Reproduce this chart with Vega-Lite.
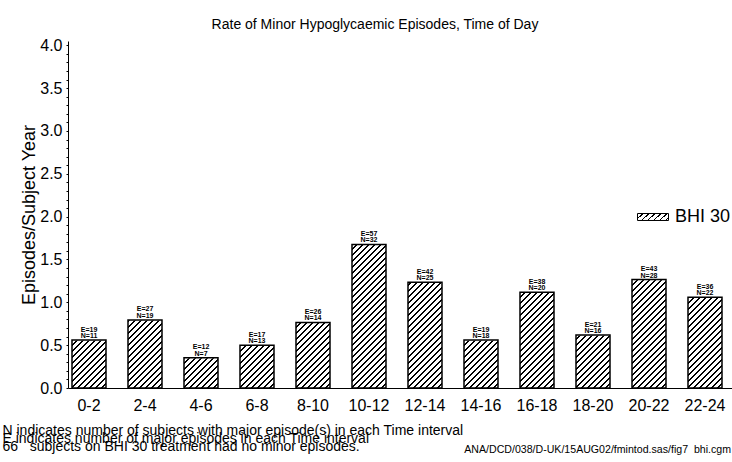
{
  "$schema": "https://vega.github.io/schema/vega-lite/v6.json",
  "width": 664,
  "height": 347,
  "autosize": {"type": "none"},
  "padding": {"left": 68, "top": 41, "right": 0, "bottom": 74},
  "background": "white",
  "config": {
    "view": {"stroke": null},
    "font": "Liberation Sans",
    "axis": {"domainColor": "black", "tickColor": "black", "labelColor": "black", "titleColor": "black", "grid": false}
  },
  "title": {
    "text": "Rate of Minor Hypoglycaemic Episodes, Time of Day",
    "fontSize": 14, "fontWeight": "normal", "color": "black",
    "anchor": "middle", "frame": "group", "baseline": "alphabetic", "offset": 12.5, "dx": -25, "dy": 18.5
  },
  "data": {"values": [
    {"t": "0-2", "rate": 0.559, "E": 19, "N": 11},
    {"t": "2-4", "rate": 0.794, "E": 27, "N": 19},
    {"t": "4-6", "rate": 0.353, "E": 12, "N": 7},
    {"t": "6-8", "rate": 0.5, "E": 17, "N": 13},
    {"t": "8-10", "rate": 0.765, "E": 26, "N": 14},
    {"t": "10-12", "rate": 1.676, "E": 57, "N": 32},
    {"t": "12-14", "rate": 1.235, "E": 42, "N": 25},
    {"t": "14-16", "rate": 0.559, "E": 19, "N": 18},
    {"t": "16-18", "rate": 1.118, "E": 38, "N": 20},
    {"t": "18-20", "rate": 0.618, "E": 21, "N": 16},
    {"t": "20-22", "rate": 1.265, "E": 43, "N": 28},
    {"t": "22-24", "rate": 1.059, "E": 36, "N": 22}
  ]},
  "encoding": {
    "x": {
      "field": "t", "type": "nominal", "sort": null,
      "scale": {"paddingInner": 0.392857, "paddingOuter": 0.125, "align": 0.2857},
      "axis": {
        "labelAngle": 0, "ticks": false, "labelPadding": 9, "labelFontSize": 16, "domainWidth": 1,
        "title": ["N indicates number of subjects with major episode(s) in each Time interval", "E indicates number of major episodes in each Time interval", "66\u00a0\u00a0\u00a0subjects on BHI 30 treatment had no minor episodes."],
        "titleFontSize": 14, "titleFontWeight": "normal", "titleAnchor": "start", "titleAlign": "left",
        "titleBaseline": "alphabetic", "titleX": -66, "titleY": 46, "titleLineHeight": 8.3
      }
    },
    "y": {
      "field": "rate", "type": "quantitative",
      "scale": {"domain": [0, 4.05], "nice": false, "zero": true},
      "axis": {
        "values": [0,0.1,0.2,0.3,0.4,0.5,0.6,0.7,0.8,0.9,1,1.1,1.2,1.3,1.4,1.5,1.6,1.7,1.8,1.9,2,2.1,2.2,2.3,2.4,2.5,2.6,2.7,2.8,2.9,3,3.1,3.2,3.3,3.4,3.5,3.6,3.7,3.8,3.9,4],
        "labelExpr": "abs(datum.value * 2 - round(datum.value * 2)) < 0.01 ? format(datum.value, '.1f') : ''",
        "labelOverlap": false, "tickSize": 2, "labelPadding": 4, "labelFontSize": 16, "domainWidth": 1,
        "title": "Episodes/Subject Year", "titleFontSize": 18, "titleFontWeight": "normal", "titlePadding": 1
      }
    }
  },
  "layer": [
    {
      "mark": {"type": "bar", "strokeWidth": 0, "fill": {"gradient": "linear", "x1": 0, "y1": 0, "x2": 0.43153, "y2": 1.90306, "stops": [
        {"offset":0,"color":"#fff"},{"offset":0.015,"color":"#fff"},{"offset":0.015,"color":"#000"},{"offset":0.02,"color":"#000"},
        {"offset":0.02,"color":"#fff"},{"offset":0.035,"color":"#fff"},{"offset":0.035,"color":"#000"},{"offset":0.04,"color":"#000"},
        {"offset":0.04,"color":"#fff"},{"offset":0.055,"color":"#fff"},{"offset":0.055,"color":"#000"},{"offset":0.06,"color":"#000"},
        {"offset":0.06,"color":"#fff"},{"offset":0.075,"color":"#fff"},{"offset":0.075,"color":"#000"},{"offset":0.08,"color":"#000"},
        {"offset":0.08,"color":"#fff"},{"offset":0.095,"color":"#fff"},{"offset":0.095,"color":"#000"},{"offset":0.1,"color":"#000"},
        {"offset":0.1,"color":"#fff"},{"offset":0.115,"color":"#fff"},{"offset":0.115,"color":"#000"},{"offset":0.12,"color":"#000"},
        {"offset":0.12,"color":"#fff"},{"offset":0.135,"color":"#fff"},{"offset":0.135,"color":"#000"},{"offset":0.14,"color":"#000"},
        {"offset":0.14,"color":"#fff"},{"offset":0.155,"color":"#fff"},{"offset":0.155,"color":"#000"},{"offset":0.16,"color":"#000"},
        {"offset":0.16,"color":"#fff"},{"offset":0.175,"color":"#fff"},{"offset":0.175,"color":"#000"},{"offset":0.18,"color":"#000"},
        {"offset":0.18,"color":"#fff"},{"offset":0.195,"color":"#fff"},{"offset":0.195,"color":"#000"},{"offset":0.2,"color":"#000"},
        {"offset":0.2,"color":"#fff"},{"offset":0.215,"color":"#fff"},{"offset":0.215,"color":"#000"},{"offset":0.22,"color":"#000"},
        {"offset":0.22,"color":"#fff"},{"offset":0.235,"color":"#fff"},{"offset":0.235,"color":"#000"},{"offset":0.24,"color":"#000"},
        {"offset":0.24,"color":"#fff"},{"offset":0.255,"color":"#fff"},{"offset":0.255,"color":"#000"},{"offset":0.26,"color":"#000"},
        {"offset":0.26,"color":"#fff"},{"offset":0.275,"color":"#fff"},{"offset":0.275,"color":"#000"},{"offset":0.28,"color":"#000"},
        {"offset":0.28,"color":"#fff"},{"offset":0.295,"color":"#fff"},{"offset":0.295,"color":"#000"},{"offset":0.3,"color":"#000"},
        {"offset":0.3,"color":"#fff"},{"offset":0.315,"color":"#fff"},{"offset":0.315,"color":"#000"},{"offset":0.32,"color":"#000"},
        {"offset":0.32,"color":"#fff"},{"offset":0.335,"color":"#fff"},{"offset":0.335,"color":"#000"},{"offset":0.34,"color":"#000"},
        {"offset":0.34,"color":"#fff"},{"offset":0.355,"color":"#fff"},{"offset":0.355,"color":"#000"},{"offset":0.36,"color":"#000"},
        {"offset":0.36,"color":"#fff"},{"offset":0.375,"color":"#fff"},{"offset":0.375,"color":"#000"},{"offset":0.38,"color":"#000"},
        {"offset":0.38,"color":"#fff"},{"offset":0.395,"color":"#fff"},{"offset":0.395,"color":"#000"},{"offset":0.4,"color":"#000"},
        {"offset":0.4,"color":"#fff"},{"offset":0.415,"color":"#fff"},{"offset":0.415,"color":"#000"},{"offset":0.42,"color":"#000"},
        {"offset":0.42,"color":"#fff"},{"offset":0.435,"color":"#fff"},{"offset":0.435,"color":"#000"},{"offset":0.44,"color":"#000"},
        {"offset":0.44,"color":"#fff"},{"offset":0.455,"color":"#fff"},{"offset":0.455,"color":"#000"},{"offset":0.46,"color":"#000"},
        {"offset":0.46,"color":"#fff"},{"offset":0.475,"color":"#fff"},{"offset":0.475,"color":"#000"},{"offset":0.48,"color":"#000"},
        {"offset":0.48,"color":"#fff"},{"offset":0.495,"color":"#fff"},{"offset":0.495,"color":"#000"},{"offset":0.5,"color":"#000"},
        {"offset":0.5,"color":"#fff"},{"offset":0.515,"color":"#fff"},{"offset":0.515,"color":"#000"},{"offset":0.52,"color":"#000"},
        {"offset":0.52,"color":"#fff"},{"offset":0.535,"color":"#fff"},{"offset":0.535,"color":"#000"},{"offset":0.54,"color":"#000"},
        {"offset":0.54,"color":"#fff"},{"offset":0.555,"color":"#fff"},{"offset":0.555,"color":"#000"},{"offset":0.56,"color":"#000"},
        {"offset":0.56,"color":"#fff"},{"offset":0.575,"color":"#fff"},{"offset":0.575,"color":"#000"},{"offset":0.58,"color":"#000"},
        {"offset":0.58,"color":"#fff"},{"offset":0.595,"color":"#fff"},{"offset":0.595,"color":"#000"},{"offset":0.6,"color":"#000"},
        {"offset":0.6,"color":"#fff"},{"offset":0.615,"color":"#fff"},{"offset":0.615,"color":"#000"},{"offset":0.62,"color":"#000"},
        {"offset":0.62,"color":"#fff"},{"offset":1,"color":"#fff"}
      ]}},
      "encoding": {
        "y": {"datum": 1.75, "type": "quantitative"},
        "y2": {"datum": 0}
      }
    },
    {
      "mark": {"type": "bar", "fill": "white", "stroke": "white", "strokeWidth": 1},
      "encoding": {
        "y2": {"datum": 1.75}
      }
    },
    {
      "mark": {"type": "bar", "fill": "transparent", "strokeWidth": 1.5},
      "encoding": {
        "stroke": {
          "datum": "BHI 30", "type": "nominal",
          "scale": {"range": ["black"]},
          "legend": {
            "orient": "none", "legendX": 569, "legendY": 160, "title": null, "padding": 0,
            "symbolType": "M-1,-0.225H1V0.225H-1Z", "symbolSize": 961,
            "symbolStrokeWidth": 1,
            "labelFontSize": 18, "labelOffset": 6, "labelColor": "black",
            "encoding": {"symbols": {"fill": {"value": {"gradient": "linear", "x1": 0, "y1": 0, "x2": 1.84159, "y2": 0.41585, "stops": [
              {"offset":0,"color":"#fff"},{"offset":0.075,"color":"#fff"},{"offset":0.075,"color":"#000"},{"offset":0.1,"color":"#000"},
              {"offset":0.1,"color":"#fff"},{"offset":0.175,"color":"#fff"},{"offset":0.175,"color":"#000"},{"offset":0.2,"color":"#000"},
              {"offset":0.2,"color":"#fff"},{"offset":0.275,"color":"#fff"},{"offset":0.275,"color":"#000"},{"offset":0.3,"color":"#000"},
              {"offset":0.3,"color":"#fff"},{"offset":0.375,"color":"#fff"},{"offset":0.375,"color":"#000"},{"offset":0.4,"color":"#000"},
              {"offset":0.4,"color":"#fff"},{"offset":0.475,"color":"#fff"},{"offset":0.475,"color":"#000"},{"offset":0.5,"color":"#000"},
              {"offset":0.5,"color":"#fff"},{"offset":0.575,"color":"#fff"},{"offset":0.575,"color":"#000"},{"offset":0.6,"color":"#000"},
              {"offset":0.6,"color":"#fff"},{"offset":0.675,"color":"#fff"},{"offset":0.675,"color":"#000"},{"offset":0.7,"color":"#000"},
              {"offset":0.7,"color":"#fff"},{"offset":1,"color":"#fff"}
            ]}}, "fillOpacity": {"value": 1}}}
          }
        }
      }
    },
    {
      "transform": [{"calculate": "'E=' + datum.E", "as": "labE"}],
      "mark": {"type": "text", "fontSize": 7, "fontWeight": "bold", "color": "black", "baseline": "alphabetic", "align": "center", "dy": -8.5},
      "encoding": {"text": {"field": "labE"}}
    },
    {
      "transform": [{"calculate": "'N=' + datum.N", "as": "labN"}],
      "mark": {"type": "text", "fontSize": 7, "fontWeight": "bold", "color": "black", "baseline": "alphabetic", "align": "center", "dy": -2},
      "encoding": {"text": {"field": "labN"}}
    },
    {
      "transform": [{"filter": "datum.t == '22-24'"}],
      "mark": {"type": "text", "text": "ANA/DCD/038/D-UK/15AUG02/fmintod.sas/fig7\u00a0\u00a0bhi.cgm", "fontSize": 10.6, "color": "black", "align": "right", "baseline": "alphabetic", "dx": 26, "dy": 65},
      "encoding": {
        "y": {"datum": 0, "type": "quantitative"}
      }
    }
  ]
}
